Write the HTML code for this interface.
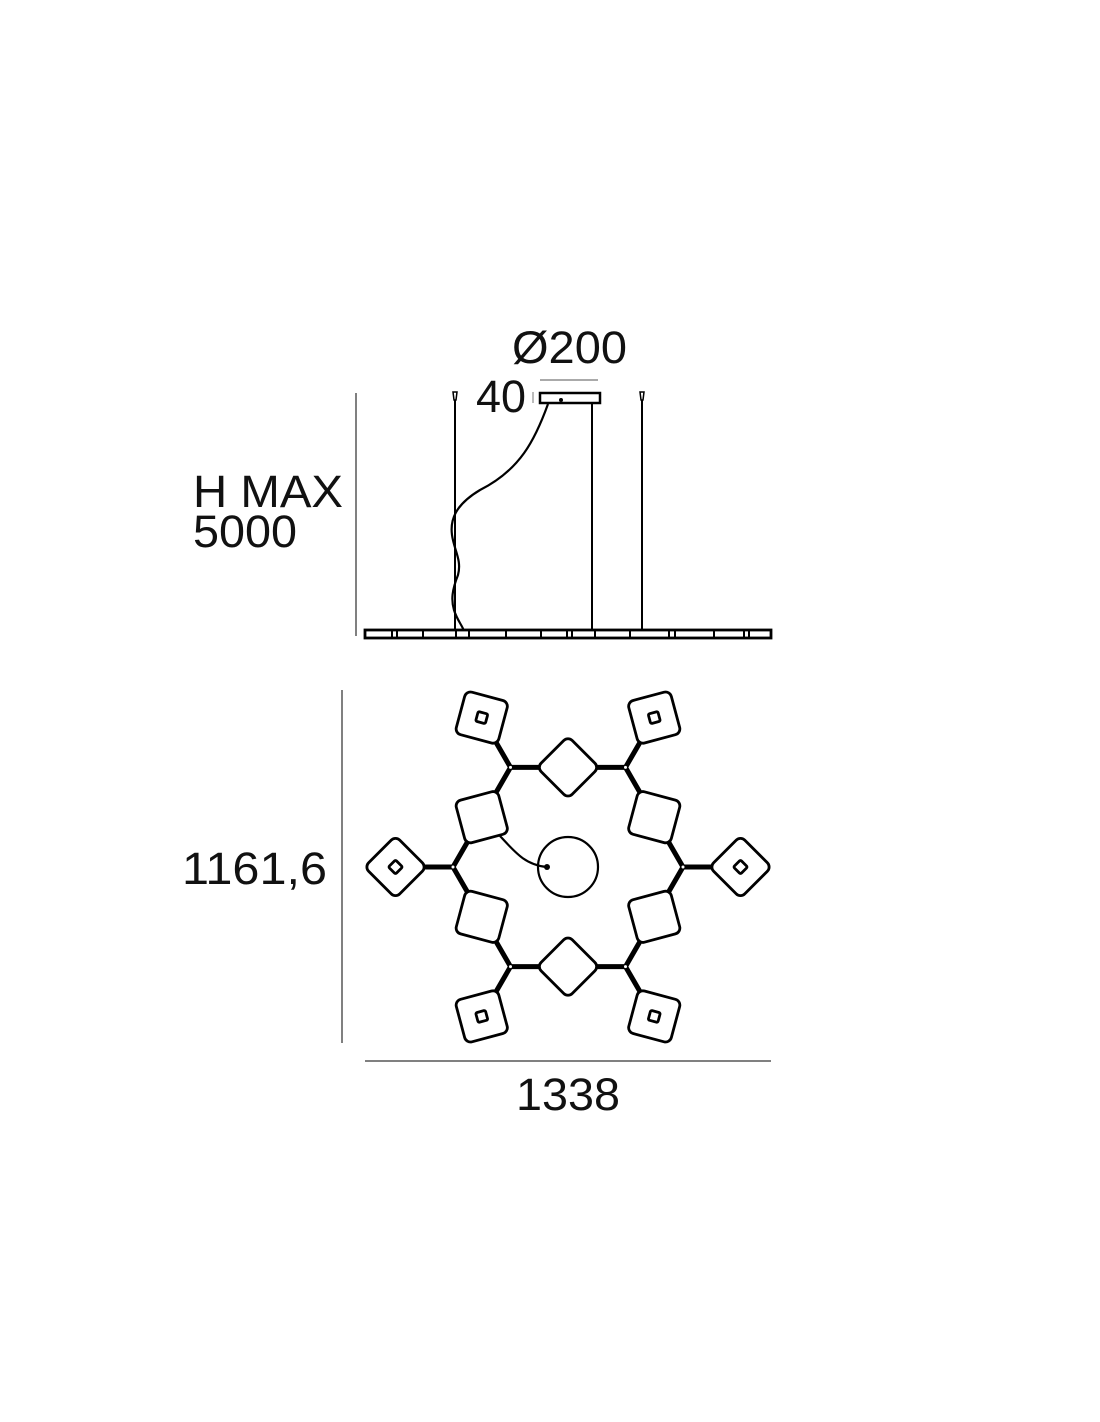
<!DOCTYPE html>
<html><head><meta charset="utf-8"><style>
html,body{margin:0;padding:0;background:#fff;}
svg{display:block;}
text{font-family:"Liberation Sans",sans-serif;fill:#111;}
</style></head><body>
<svg width="1100" height="1422" viewBox="0 0 1100 1422" xmlns="http://www.w3.org/2000/svg">
<defs>
<g id="sq"><rect x="-22" y="-22" width="44" height="44" rx="6" fill="#fff" stroke="#000" stroke-width="2.8"/></g>
<g id="sqi"><rect x="-22" y="-22" width="44" height="44" rx="6" fill="#fff" stroke="#000" stroke-width="2.8"/><rect x="-5" y="-5" width="10" height="10" rx="1.5" fill="none" stroke="#000" stroke-width="2.8"/></g>
</defs>

<!-- dimension texts -->
<text x="512" y="363" font-size="45" textLength="115" lengthAdjust="spacingAndGlyphs">Ø200</text>
<text x="476" y="412" font-size="45" textLength="50" lengthAdjust="spacingAndGlyphs">40</text>
<text x="193" y="507" font-size="45" textLength="150" lengthAdjust="spacingAndGlyphs">H MAX</text>
<text x="193" y="547" font-size="45" textLength="104" lengthAdjust="spacingAndGlyphs">5000</text>
<text x="182" y="884" font-size="45" textLength="145" lengthAdjust="spacingAndGlyphs">1161,6</text>
<text x="516" y="1110" font-size="45" textLength="104" lengthAdjust="spacingAndGlyphs">1338</text>

<!-- side view -->
<g stroke="#000" fill="none">
<line x1="356" y1="393" x2="356" y2="636" stroke-width="1"/>
<line x1="540" y1="380" x2="598" y2="380" stroke-width="1" stroke="#555"/>
<line x1="533" y1="392" x2="533" y2="403" stroke-width="1" stroke="#777"/>
<rect x="540" y="393" width="60" height="10" fill="#fff" stroke-width="2.5"/>
<line x1="455" y1="398" x2="455" y2="630" stroke-width="2"/>
<line x1="642" y1="398" x2="642" y2="630" stroke-width="2"/>
<line x1="592" y1="403" x2="592" y2="630" stroke-width="2"/>
<path d="M453,392 L457,392 L456,400 L454,400 Z" fill="#fff" stroke-width="1.5"/>
<path d="M640,392 L644,392 L643,400 L641,400 Z" fill="#fff" stroke-width="1.5"/>
<path d="M548,404 C535,440 520,470 480,490 C455,505 450,520 452,535 C454,550 462,560 458,575 C452,590 451,600 454,610 C457,620 462,625 464,631" stroke-width="2.2"/>
<circle cx="561" cy="400" r="1.5" fill="#000"/>
<rect x="365" y="630" width="406" height="8" fill="#fff" stroke-width="2.8"/>
<g stroke-width="2">
<line x1="392" y1="631" x2="392" y2="637"/><line x1="397" y1="631" x2="397" y2="637"/>
<line x1="423" y1="631" x2="423" y2="637"/><line x1="456" y1="631" x2="456" y2="637"/>
<line x1="469" y1="631" x2="469" y2="637"/><line x1="506" y1="631" x2="506" y2="637"/>
<line x1="541" y1="631" x2="541" y2="637"/><line x1="567" y1="631" x2="567" y2="637"/>
<line x1="572" y1="631" x2="572" y2="637"/><line x1="595" y1="631" x2="595" y2="637"/>
<line x1="630" y1="631" x2="630" y2="637"/><line x1="669" y1="631" x2="669" y2="637"/>
<line x1="675" y1="631" x2="675" y2="637"/><line x1="714" y1="631" x2="714" y2="637"/>
<line x1="744" y1="631" x2="744" y2="637"/><line x1="749" y1="631" x2="749" y2="637"/>
</g>
</g>

<!-- plan view dims -->
<line x1="342" y1="690" x2="342" y2="1043" stroke="#000" stroke-width="1"/>
<line x1="365" y1="1061" x2="771" y2="1061" stroke="#000" stroke-width="1"/>

<!-- arms -->
<g stroke="#000" stroke-width="5" stroke-linecap="round">
<line x1="683" y1="867" x2="740.5" y2="867"/>
<line x1="453" y1="867" x2="395.5" y2="867"/>
<line x1="625.5" y1="767.4" x2="654.25" y2="717.6"/>
<line x1="510.5" y1="767.4" x2="481.75" y2="717.6"/>
<line x1="510.5" y1="966.6" x2="481.75" y2="1016.4"/>
<line x1="625.5" y1="966.6" x2="654.25" y2="1016.4"/>
<polyline fill="none" points="683,867 625.5,767.4 510.5,767.4 453,867 510.5,966.6 625.5,966.6 683,867"/>
</g>
<g fill="#fff">
<circle cx="683" cy="867" r="1.5"/><circle cx="453" cy="867" r="1.5"/>
<circle cx="625.5" cy="767.4" r="1.5"/><circle cx="510.5" cy="767.4" r="1.5"/>
<circle cx="510.5" cy="966.6" r="1.5"/><circle cx="625.5" cy="966.6" r="1.5"/>
</g>

<!-- radial elements -->
<use href="#sqi" transform="translate(740.5,867) rotate(45)"/>
<use href="#sqi" transform="translate(395.5,867) rotate(45)"/>
<use href="#sqi" transform="translate(481.75,717.6) rotate(15)"/>
<use href="#sqi" transform="translate(654.25,717.6) rotate(-15)"/>
<use href="#sqi" transform="translate(481.75,1016.4) rotate(-15)"/>
<use href="#sqi" transform="translate(654.25,1016.4) rotate(15)"/>
<!-- edge elements -->
<use href="#sq" transform="translate(568,767.4) rotate(45)"/>
<use href="#sq" transform="translate(568,966.6) rotate(45)"/>
<use href="#sq" transform="translate(481.75,817.2) rotate(-15)"/>
<use href="#sq" transform="translate(481.75,916.8) rotate(15)"/>
<use href="#sq" transform="translate(654.25,817.2) rotate(15)"/>
<use href="#sq" transform="translate(654.25,916.8) rotate(-15)"/>

<!-- canopy + cable -->
<circle cx="568" cy="867" r="30" fill="none" stroke="#000" stroke-width="2.2"/>
<path d="M500,836 C515,852 525,865 547,867" fill="none" stroke="#000" stroke-width="2.2"/>
<circle cx="547" cy="867" r="3" fill="#000"/>
</svg>
</body></html>
